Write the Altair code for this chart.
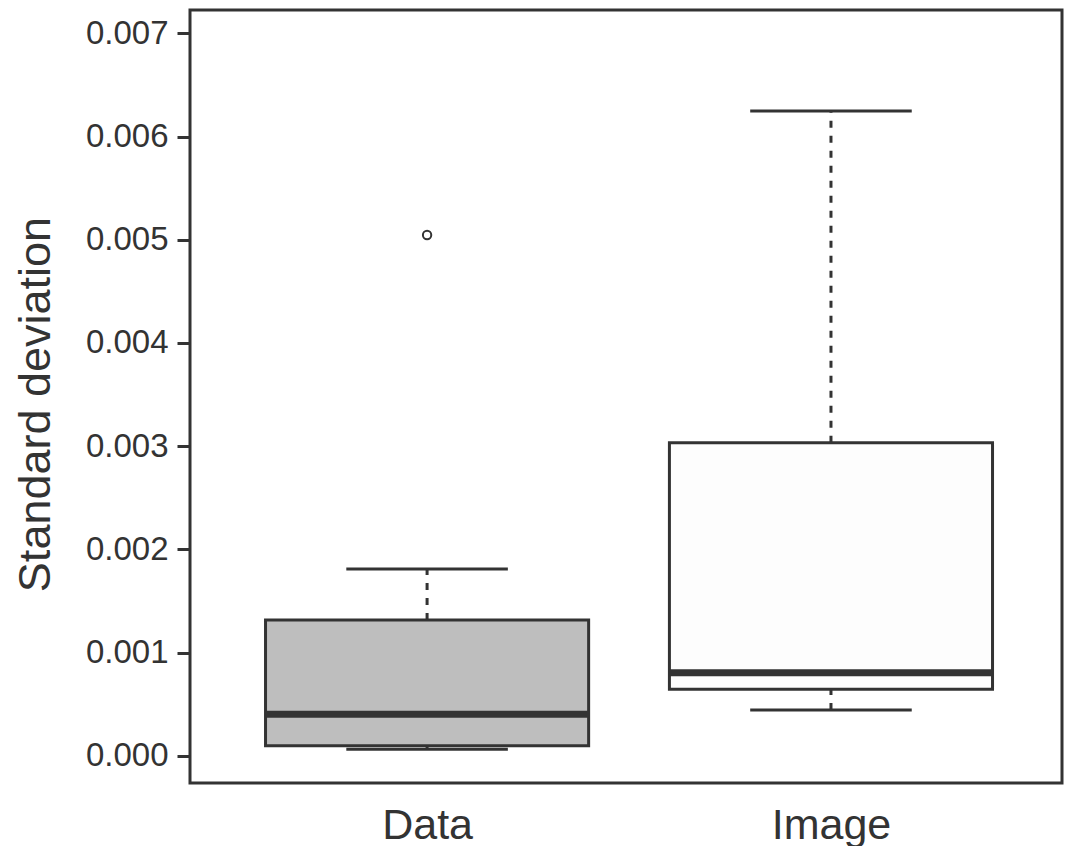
import altair as alt
import pandas as pd

# ---- data ----
categories = ["Data", "Image"]
whisker_low = [0.000062, 0.000443]
quartile1 = [0.000097, 0.000643]
medians = [0.000401, 0.000804]
quartile3 = [0.001315, 0.003033]
whisker_high = [0.001809, 0.006247]
outlier_category = ["Data"]
outlier_value = [0.005046]
y_ticks = [0.000, 0.001, 0.002, 0.003, 0.004, 0.005, 0.006, 0.007]

box_colors = ["#bebebe", "#fdfdfd"]
INK = "#333333"
FONT = "Liberation Sans"

positions = [i + 1 for i in range(len(categories))]
df = pd.DataFrame({
    "cat": categories,
    "pos": positions,
    "wlo": whisker_low,
    "q1": quartile1,
    "med": medians,
    "q3": quartile3,
    "whi": whisker_high,
})
out = pd.DataFrame({
    "cat": outlier_category,
    "value": outlier_value,
    "pos": [categories.index(c) + 1 for c in outlier_category],
})

xscale = alt.Scale(domain=[0.413, 2.572], nice=False, zero=False)
yscale = alt.Scale(domain=[-0.0002645, 0.007226], nice=False, zero=False)

label_expr = " : ".join(
    f"datum.value == {p} ? '{c}'" for p, c in zip(positions, categories)
) + " : ''"

x_axis = alt.Axis(values=positions, labelExpr=label_expr, ticks=False, tickSize=0,
                  domain=False, grid=False, labelFontSize=43, labelColor=INK,
                  labelFont=FONT, labelPadding=21, title=None, labelFlush=False,
                  labelOverlap=False)
y_axis = alt.Axis(values=y_ticks, format=".3f", tickSize=13, tickWidth=3, tickColor=INK,
                  domain=False, grid=False, labelFontSize=33, labelFont=FONT,
                  labelColor=INK, labelPadding=9, labelFlush=False,
                  title="Standard deviation", titleFontSize=45, titleFont=FONT,
                  titleColor=INK, titleFontWeight="normal", titleAngle=270,
                  titleX=-177, titleY=394, titleBaseline="top", titleAlign="center")

base = alt.Chart(df).transform_calculate(
    box_lo="datum.pos - 0.4",
    box_hi="datum.pos + 0.4",
    cap_lo="datum.pos - 0.2",
    cap_hi="datum.pos + 0.2",
)

whisk_up = base.mark_rule(strokeDash=[7, 8], strokeWidth=3, color=INK).encode(
    x=alt.X("pos:Q", scale=xscale, axis=x_axis),
    y=alt.Y("q3:Q", scale=yscale, axis=y_axis),
    y2="whi:Q",
)
whisk_dn = base.mark_rule(strokeDash=[7, 8], strokeWidth=3, color=INK).encode(
    x=alt.X("pos:Q", scale=xscale, axis=x_axis),
    y=alt.Y("wlo:Q", scale=yscale, axis=y_axis),
    y2="q1:Q",
)
cap_up = base.mark_rule(strokeWidth=3, color=INK).encode(
    x=alt.X("cap_lo:Q", scale=xscale, axis=x_axis),
    x2="cap_hi:Q",
    y=alt.Y("whi:Q", scale=yscale, axis=y_axis),
)
cap_dn = base.mark_rule(strokeWidth=3, color=INK).encode(
    x=alt.X("cap_lo:Q", scale=xscale, axis=x_axis),
    x2="cap_hi:Q",
    y=alt.Y("wlo:Q", scale=yscale, axis=y_axis),
)
box = base.mark_rect(stroke=INK, strokeWidth=3).encode(
    x=alt.X("box_lo:Q", scale=xscale, axis=x_axis),
    x2="box_hi:Q",
    y=alt.Y("q1:Q", scale=yscale, axis=y_axis),
    y2="q3:Q",
    fill=alt.Fill("cat:N", scale=alt.Scale(domain=categories, range=box_colors), legend=None),
)
median = base.mark_rule(strokeWidth=7, color=INK).encode(
    x=alt.X("box_lo:Q", scale=xscale, axis=x_axis),
    x2="box_hi:Q",
    y=alt.Y("med:Q", scale=yscale, axis=y_axis),
)
outliers = alt.Chart(out).mark_point(shape="circle", filled=False, size=70,
                                     strokeWidth=2, color=INK, opacity=1).encode(
    x=alt.X("pos:Q", scale=xscale, axis=x_axis),
    y=alt.Y("value:Q", scale=yscale, axis=y_axis),
)

chart = alt.layer(whisk_up, whisk_dn, box, median, cap_up, cap_dn, outliers).properties(
    width=872,
    height=773,
    autosize=alt.AutoSizeParams(type="none"),
    padding={"left": 182, "top": 2, "right": 2, "bottom": 63},
    background="white",
).configure_view(stroke=INK, strokeWidth=3)

chart.save("out.html", embed_options={"renderer": "svg", "actions": False})
